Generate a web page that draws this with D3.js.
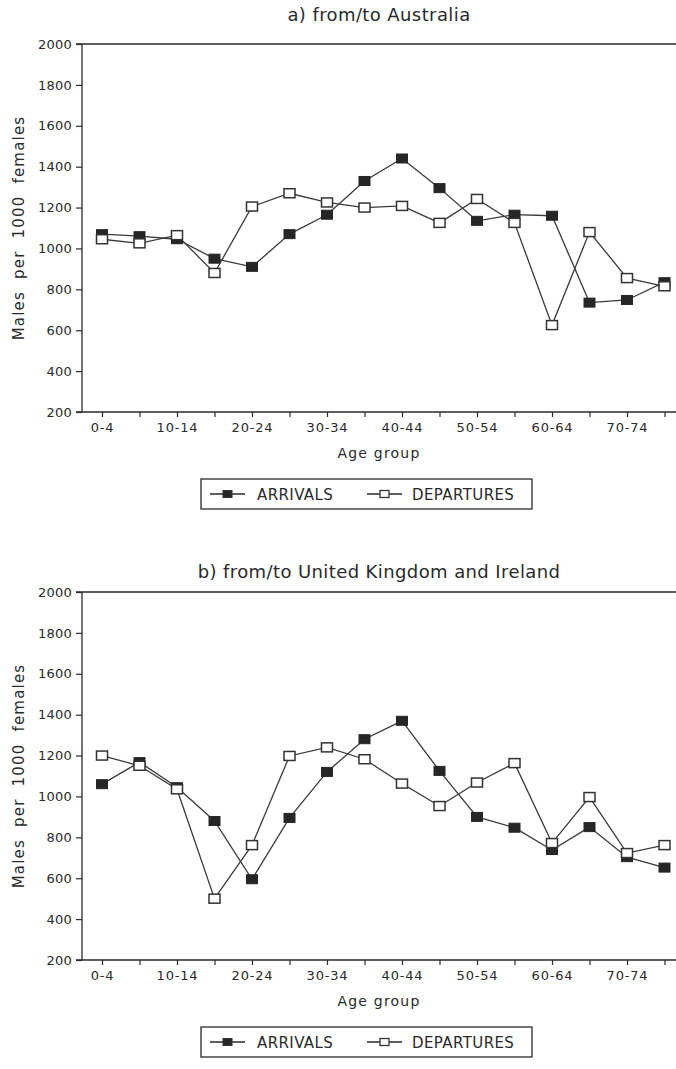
<!DOCTYPE html>
<html>
<head>
<meta charset="utf-8">
<script src="https://cdn.jsdelivr.net/npm/d3@7"></script>
<style>
  html, body { margin: 0; padding: 0; background: #fff; }
  svg { display: block; }
  text { font-family: "DejaVu Sans", sans-serif; fill: #2a2a2a; }
</style>
</head>
<body>
<svg id="chart" width="676" height="1069"></svg>
<script>
// ---- data ----
const ageGroups = ["0-4","5-9","10-14","15-19","20-24","25-29","30-34","35-39",
                   "40-44","45-49","50-54","55-59","60-64","65-69","70-74","75+"];
const xTickLabels = ["0-4","10-14","20-24","30-34","40-44","50-54","60-64","70-74"];
const yTickValues = [200,400,600,800,1000,1200,1400,1600,1800,2000];

const ausArrivals   = [1070,1060,1045,950,910,1070,1165,1330,1440,1295,1135,1165,1160,735,748,835];
const ausDepartures = [1045,1025,1065,880,1205,1270,1225,1200,1208,1125,1242,1125,625,1080,855,815];
const ukArrivals    = [1060,1168,1045,880,595,895,1120,1280,1370,1125,900,847,738,850,703,652];
const ukDepartures  = [1200,1150,1035,500,762,1198,1240,1182,1063,953,1068,1163,772,997,723,762];

const titles = ["a) from/to Australia", "b) from/to United Kingdom and Ireland"];
const seriesNames = ["ARRIVALS", "DEPARTURES"];
const yTitle = "Males per 1000 females";
const xTitle = "Age group";

// ---- drawing ----
const svg = d3.select("#chart");
const ink = "#2a2a2a";
const left = 82, right = 690;

function panel(offsetY, titleY, title, arrivals, departures) {
  const g = svg.append("g").attr("transform", `translate(0,${offsetY})`);
  const top = 44, bottom = 412;

  const x = d3.scalePoint().domain(ageGroups).range([102, 102 + 37.5 * 15]);
  const y = d3.scaleLinear().domain([200, 2000]).range([bottom, top]);

  // title
  g.append("text")
    .attr("x", 379).attr("y", titleY)
    .attr("text-anchor", "middle")
    .attr("font-size", 18).attr("letter-spacing", 0.4)
    .text(title);

  // frame lines: left axis, bottom axis, top line
  g.append("line").attr("x1", left).attr("x2", left).attr("y1", top).attr("y2", bottom)
    .attr("stroke", ink).attr("stroke-width", 1.3);
  g.append("line").attr("x1", left - 6).attr("x2", right).attr("y1", bottom).attr("y2", bottom)
    .attr("stroke", ink).attr("stroke-width", 1.3);
  g.append("line").attr("x1", left - 6).attr("x2", right).attr("y1", top).attr("y2", top)
    .attr("stroke", ink).attr("stroke-width", 1.3);

  // y axis
  const yAxis = g.append("g").attr("transform", `translate(${left},0)`)
    .call(d3.axisLeft(y).tickValues(yTickValues).tickSize(6).tickPadding(4).tickFormat(d3.format("d")));
  yAxis.select(".domain").remove();
  yAxis.selectAll("line").attr("stroke", ink).attr("stroke-width", 1.2);
  yAxis.selectAll("text").attr("font-size", 13).attr("letter-spacing", 0.2)
    .attr("font-family", "DejaVu Sans").attr("fill", ink);

  // x axis
  const xAxis = g.append("g").attr("transform", `translate(0,${bottom})`)
    .call(d3.axisBottom(x).tickSize(5).tickPadding(6)
      .tickFormat(d => xTickLabels.includes(d) ? d : ""));
  xAxis.select(".domain").remove();
  xAxis.selectAll("line").attr("stroke", ink).attr("stroke-width", 1.2);
  xAxis.selectAll("text").attr("font-size", 13).attr("letter-spacing", 0.8)
    .attr("font-family", "DejaVu Sans").attr("fill", ink);

  // axis titles
  g.append("text")
    .attr("x", 379).attr("y", 458)
    .attr("text-anchor", "middle")
    .attr("font-size", 14).attr("letter-spacing", 1.2)
    .text(xTitle);
  g.append("text")
    .attr("transform", `translate(24,${(top + bottom) / 2}) rotate(-90)`)
    .attr("text-anchor", "middle")
    .attr("font-size", 15).attr("letter-spacing", 1.2).attr("word-spacing", 6)
    .text(yTitle);

  // lines
  const line = d3.line().x((d, i) => x(ageGroups[i])).y(d => y(d));
  [arrivals, departures].forEach(s => {
    g.append("path").datum(s).attr("d", line)
      .attr("fill", "none").attr("stroke", "#3a3a3a").attr("stroke-width", 1.3);
  });

  // markers
  const mw = 11, mh = 9;
  g.selectAll(".arr").data(arrivals).join("rect")
    .attr("x", (d, i) => x(ageGroups[i]) - mw / 2).attr("y", d => y(d) - mh / 2)
    .attr("width", mw).attr("height", mh)
    .attr("fill", "#262626").attr("stroke", "#262626").attr("stroke-width", 1);
  g.selectAll(".dep").data(departures).join("rect")
    .attr("x", (d, i) => x(ageGroups[i]) - mw / 2).attr("y", d => y(d) - mh / 2)
    .attr("width", mw).attr("height", mh)
    .attr("fill", "#fff").attr("stroke", "#333").attr("stroke-width", 1.5);

  // legend
  const lg = g.append("g");
  const ly = 479, lh = 30, lc = ly + lh / 2;
  lg.append("rect").attr("x", 201).attr("y", ly).attr("width", 331).attr("height", lh)
    .attr("fill", "none").attr("stroke", ink).attr("stroke-width", 1.3);
  const items = [
    {name: seriesNames[0], x0: 210, filled: true, tx: 257},
    {name: seriesNames[1], x0: 367, filled: false, tx: 412}
  ];
  items.forEach(it => {
    lg.append("line").attr("x1", it.x0).attr("x2", it.x0 + 35).attr("y1", lc).attr("y2", lc)
      .attr("stroke", ink).attr("stroke-width", 1.3);
    lg.append("rect").attr("x", it.x0 + 13).attr("y", lc - 3.5).attr("width", 9).attr("height", 7)
      .attr("fill", it.filled ? "#262626" : "#fff").attr("stroke", "#333")
      .attr("stroke-width", it.filled ? 1 : 1.3);
    lg.append("text").attr("x", it.tx).attr("y", lc + 6)
      .attr("font-size", 15).attr("letter-spacing", 0.4)
      .text(it.name);
  });
}

panel(0, 21, titles[0], ausArrivals, ausDepartures);
panel(548, 30, titles[1], ukArrivals, ukDepartures);
</script>
</body>
</html>
